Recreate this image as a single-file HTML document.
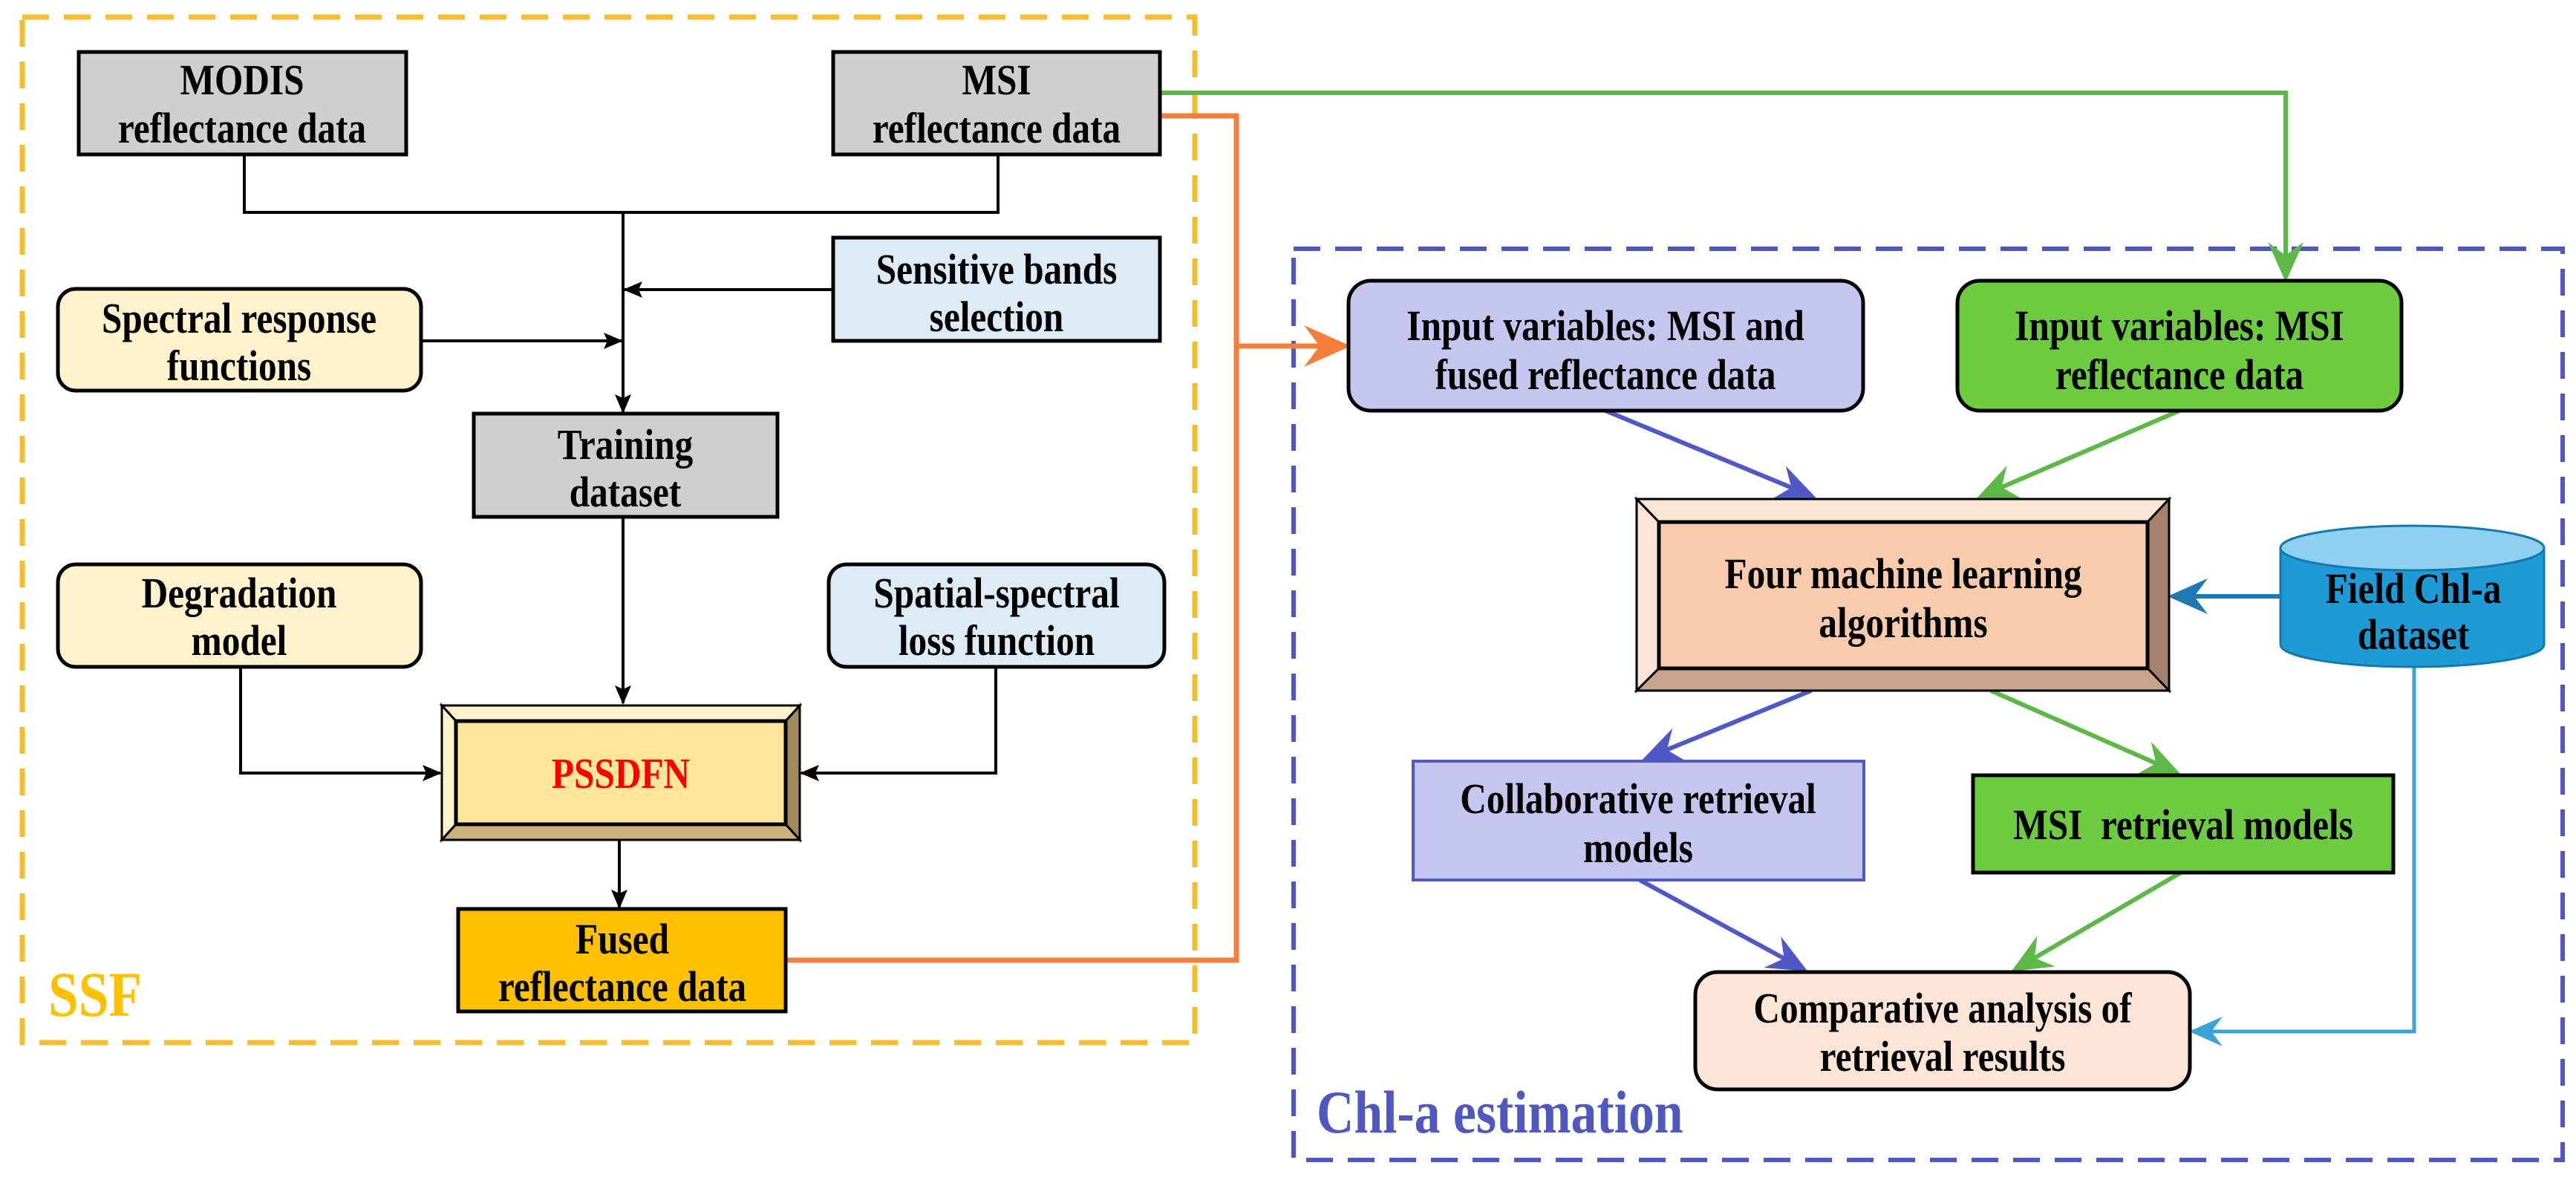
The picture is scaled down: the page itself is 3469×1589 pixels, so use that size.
<!DOCTYPE html>
<html><head><meta charset="utf-8"><style>
html,body{margin:0;padding:0;background:#fff}
svg{display:block}
text{font-family:"Liberation Serif",serif;font-weight:bold;font-size:58px;text-anchor:middle;fill:#000}
</style></head><body>
<svg width="3469" height="1589" viewBox="0 0 3469 1589" xmlns="http://www.w3.org/2000/svg">
<defs>
<marker id="ak" markerWidth="26" markerHeight="22" refX="24" refY="11" orient="auto" markerUnits="userSpaceOnUse" viewBox="0 0 26 22"><path d="M0,0 L26,11 L0,22 L5,11 z" fill="#000"/></marker>
<marker id="ab" markerWidth="10" markerHeight="10" refX="8" refY="5" orient="auto" markerUnits="strokeWidth" viewBox="0 0 10 10"><path d="M0,1 L9,5 L0,9 L3,5 z" fill="context-stroke"/></marker>
</defs>

<rect x="30" y="23" width="1579" height="1381" fill="none" stroke="#F5BE2C" stroke-width="7" stroke-dasharray="36,20"/>
<g transform="translate(65,1368) scale(0.85,1)"><text x="0" y="0" style="text-anchor:start;font-size:86px;fill:#FFC000">SSF</text></g>

<rect x="1742" y="335" width="1709" height="1227" fill="none" stroke="#5058C0" stroke-width="6" stroke-dasharray="36,20"/>
<g transform="translate(1773,1525) scale(0.85,1)"><text x="0" y="0" style="text-anchor:start;font-size:82px;fill:#5058C0">Chl-a estimation</text></g>

<g stroke="#000" stroke-width="4" fill="none">
<polyline points="329,208 329,286 1344,286 1344,208"/>
<line x1="839" y1="286" x2="839" y2="555" marker-end="url(#ak)"/>
<line x1="1122" y1="390" x2="841" y2="390" marker-end="url(#ak)"/>
<line x1="567" y1="459" x2="837" y2="459" marker-end="url(#ak)"/>
<line x1="839" y1="696" x2="839" y2="947" marker-end="url(#ak)"/>
<polyline points="324,898 324,1041 593,1041" marker-end="url(#ak)"/>
<polyline points="1341,898 1341,1041 1079,1041" marker-end="url(#ak)"/>
<line x1="834" y1="1131" x2="834" y2="1222" marker-end="url(#ak)"/>
</g>

<polyline points="1058,1293 1665,1293 1665,156 1562,156" fill="none" stroke="#F47F3A" stroke-width="7"/>
<line x1="1665" y1="466" x2="1812" y2="466" stroke="#F47F3A" stroke-width="7" marker-end="url(#ab)"/>
<polyline points="1562,125 3078,125 3078,374" fill="none" stroke="#5DB847" stroke-width="6" marker-end="url(#ab)"/>

<rect x="106" y="70" width="441" height="138" fill="#D0CECE" stroke="#000" stroke-width="5"/>
<g transform="translate(326,127) scale(0.85,1)"><text>MODIS</text></g>
<g transform="translate(326,192) scale(0.85,1)"><text>reflectance data</text></g>

<rect x="1122" y="70" width="440" height="138" fill="#D0CECE" stroke="#000" stroke-width="5"/>
<g transform="translate(1342,127) scale(0.85,1)"><text>MSI</text></g>
<g transform="translate(1342,192) scale(0.85,1)"><text>reflectance data</text></g>

<rect x="1122" y="320" width="440" height="139" fill="#DDEBF7" stroke="#000" stroke-width="5"/>
<g transform="translate(1342,382) scale(0.85,1)"><text>Sensitive bands</text></g>
<g transform="translate(1342,446) scale(0.85,1)"><text>selection</text></g>

<rect x="78" y="389" width="489" height="137" rx="24" fill="#FFF2CC" stroke="#000" stroke-width="5"/>
<g transform="translate(322,448) scale(0.85,1)"><text>Spectral response</text></g>
<g transform="translate(322,512) scale(0.85,1)"><text>functions</text></g>

<rect x="638" y="557" width="409" height="139" fill="#D0CECE" stroke="#000" stroke-width="5"/>
<g transform="translate(842,618) scale(0.85,1)"><text>Training</text></g>
<g transform="translate(842,682) scale(0.85,1)"><text>dataset</text></g>

<rect x="78" y="760" width="489" height="138" rx="24" fill="#FFF2CC" stroke="#000" stroke-width="5"/>
<g transform="translate(322,818) scale(0.85,1)"><text>Degradation</text></g>
<g transform="translate(322,882) scale(0.85,1)"><text>model</text></g>

<rect x="1116" y="760" width="452" height="138" rx="24" fill="#DDEBF7" stroke="#000" stroke-width="5"/>
<g transform="translate(1342,818) scale(0.85,1)"><text>Spatial-spectral</text></g>
<g transform="translate(1342,882) scale(0.85,1)"><text>loss function</text></g>

<g stroke="#000" stroke-width="3">
<polygon points="595,950 1077,950 1058,971 614,971" fill="#FFF2CC"/>
<polygon points="595,950 614,971 614,1110 595,1131" fill="#FFF2CC"/>
<polygon points="1077,950 1077,1131 1058,1110 1058,971" fill="#A08A5A"/>
<polygon points="595,1131 614,1110 1058,1110 1077,1131" fill="#C9B27C"/>
<rect x="614" y="971" width="444" height="139" fill="#FFE699" stroke-width="5"/>
</g>
<g transform="translate(836,1061) scale(0.85,1)"><text style="fill:#FF0000">PSSDFN</text></g>

<rect x="617" y="1224" width="441" height="138" fill="#FFC000" stroke="#000" stroke-width="5"/>
<g transform="translate(838,1284) scale(0.85,1)"><text>Fused</text></g>
<g transform="translate(838,1348) scale(0.85,1)"><text>reflectance data</text></g>

<g stroke-width="6" fill="none">
<line x1="2162" y1="553" x2="2440" y2="668" stroke="#5058C8" marker-end="url(#ab)"/>
<line x1="2935" y1="553" x2="2668" y2="668" stroke="#5DB847" marker-end="url(#ab)"/>
<line x1="2439" y1="930" x2="2217" y2="1021" stroke="#5058C8" marker-end="url(#ab)"/>
<line x1="2681" y1="930" x2="2931" y2="1040" stroke="#5DB847" marker-end="url(#ab)"/>
<line x1="2208" y1="1185" x2="2429" y2="1305" stroke="#5058C8" marker-end="url(#ab)"/>
<line x1="2937" y1="1175" x2="2714" y2="1305" stroke="#5DB847" marker-end="url(#ab)"/>
<line x1="3071" y1="803" x2="2925" y2="803" stroke="#1F78B4" marker-end="url(#ab)"/>
<polyline points="3251,896 3251,1389 2953,1389" stroke="#3BA3D6" stroke-width="5" marker-end="url(#ab)"/>
</g>

<rect x="1816" y="378" width="693" height="175" rx="30" fill="#C5C6F0" stroke="#000" stroke-width="5"/>
<g transform="translate(2162,458) scale(0.85,1)"><text>Input variables: MSI and</text></g>
<g transform="translate(2162,524) scale(0.85,1)"><text>fused reflectance data</text></g>

<rect x="2636" y="378" width="598" height="175" rx="30" fill="#6CCB3F" stroke="#000" stroke-width="5"/>
<g transform="translate(2935,458) scale(0.85,1)"><text>Input variables: MSI</text></g>
<g transform="translate(2935,524) scale(0.85,1)"><text>reflectance data</text></g>

<g stroke="#000" stroke-width="3">
<polygon points="2204,672 2921,672 2892,703 2234,703" fill="#FCE4D6"/>
<polygon points="2204,672 2234,703 2234,900 2204,930" fill="#FCE4D6"/>
<polygon points="2921,672 2921,930 2892,900 2892,703" fill="#A5806A"/>
<polygon points="2204,930 2234,900 2892,900 2921,930" fill="#C9A38C"/>
<rect x="2234" y="703" width="658" height="197" fill="#F8CBAD" stroke-width="5"/>
</g>
<g transform="translate(2563,792) scale(0.85,1)"><text>Four machine learning</text></g>
<g transform="translate(2563,858) scale(0.85,1)"><text>algorithms</text></g>

<path d="M3071,738 L3071,868 A177.5,30 0 0 0 3426,868 L3426,738 Z" fill="#1E9BD7" stroke="#1479AE" stroke-width="3"/>
<ellipse cx="3248.5" cy="738" rx="177.5" ry="30" fill="#8FCFEF" stroke="#1479AE" stroke-width="3"/>
<g transform="translate(3250,812) scale(0.85,1)"><text>Field Chl-a</text></g>
<g transform="translate(3250,874) scale(0.85,1)"><text>dataset</text></g>

<rect x="1903" y="1025" width="607" height="160" fill="#C5C6F0" stroke="#5058C8" stroke-width="4"/>
<g transform="translate(2206,1095) scale(0.85,1)"><text>Collaborative retrieval</text></g>
<g transform="translate(2206,1161) scale(0.85,1)"><text>models</text></g>

<rect x="2657" y="1044" width="566" height="131" fill="#6CCB3F" stroke="#000" stroke-width="5"/>
<g transform="translate(2940,1130) scale(0.85,1)"><text xml:space="preserve">MSI  retrieval models</text></g>

<rect x="2283" y="1309" width="666" height="158" rx="30" fill="#FCE4D6" stroke="#000" stroke-width="5"/>
<g transform="translate(2616,1377) scale(0.85,1)"><text>Comparative analysis of</text></g>
<g transform="translate(2616,1442) scale(0.85,1)"><text>retrieval results</text></g>
</svg>
</body></html>
